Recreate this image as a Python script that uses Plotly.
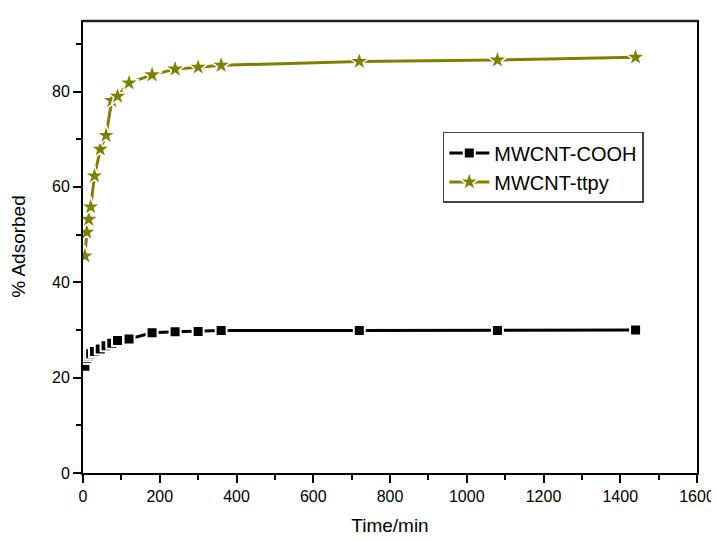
import plotly.graph_objects as go

time_min = [5, 10, 15, 20, 30, 45, 60, 75, 90, 120, 180, 240, 300, 360, 720, 1080, 1440]
cooh = [22.4, 24.0, 24.6, 25.0, 25.5, 26.0, 26.7, 27.2, 27.8, 28.1, 29.4, 29.6, 29.7, 29.9, 29.9, 29.9, 30.0]
ttpy = [45.5, 50.5, 53.2, 55.8, 62.3, 67.9, 70.8, 78.1, 79.0, 81.8, 83.5, 84.7, 85.1, 85.5, 86.3, 86.6, 87.2]

series_names = ["MWCNT-COOH", "MWCNT-ttpy"]
colors = ["#000000", "#808000"]

fig = go.Figure()
fig.add_trace(go.Scatter(
    x=time_min, y=cooh, name=series_names[0], mode="lines+markers",
    line=dict(color=colors[0], width=3),
    marker=dict(symbol="square", size=11, color=colors[0], line=dict(color="white", width=2)),
))
fig.add_trace(go.Scatter(
    x=time_min, y=ttpy, name=series_names[1], mode="lines+markers",
    line=dict(color=colors[1], width=3),
    marker=dict(symbol="star", size=15, color=colors[1], line=dict(color="white", width=1.5)),
))

axis_font = dict(family="Liberation Sans, Arial, sans-serif", size=16, color="black")
fig.update_layout(
    width=711, height=533,
    margin=dict(l=75, r=22, t=12, b=68, autoexpand=False),
    plot_bgcolor="white", paper_bgcolor="white",
    font=axis_font,
    showlegend=True,
    legend=dict(x=0.586, y=0.753, xanchor="left", yanchor="top",
                bgcolor="white", bordercolor="#444444", borderwidth=1.5,
                font=dict(family="Liberation Sans, Arial, sans-serif", size=20, color="black"),
                itemwidth=40, tracegroupgap=0),
    xaxis=dict(range=[0, 1600], tickmode="linear", tick0=0, dtick=200,
               ticks="outside", ticklen=8, tickwidth=1.5, tickcolor="black",
               showline=True, linecolor="black", linewidth=2, mirror=False,
               showgrid=False, zeroline=False, automargin=False,
               minor=dict(dtick=100, ticks="outside", ticklen=5, tickwidth=1.5, tickcolor="black"),
               title=dict(text="Time/min", font=dict(size=19), standoff=14),
               tickfont=axis_font),
    yaxis=dict(range=[0, 95], tickmode="linear", tick0=0, dtick=20,
               ticks="outside", ticklen=8, tickwidth=1.5, tickcolor="black",
               showline=True, linecolor="black", linewidth=2, mirror=False,
               showgrid=False, zeroline=False, automargin=False,
               minor=dict(dtick=10, ticks="outside", ticklen=5, tickwidth=1.5, tickcolor="black"),
               title=dict(text="% Adsorbed", font=dict(size=19), standoff=22),
               tickfont=axis_font),
    yaxis2=dict(overlaying="y", side="right", range=[0, 95], showline=True,
                linecolor="black", linewidth=2, showticklabels=False, ticks="",
                showgrid=False, zeroline=False, automargin=False),
    shapes=[dict(type="line", xref="paper", yref="paper", x0=0, x1=1, y0=0.998, y1=0.998,
                 line=dict(color="#222222", width=2.5), layer="above")],
)
# invisible helper trace so the right frame axis is drawn
fig.add_trace(go.Scatter(x=[0], y=[0], yaxis="y2", mode="markers",
                         marker=dict(opacity=0), showlegend=False, hoverinfo="skip"))

fig.write_html("out.html", config={"displayModeBar": False})
